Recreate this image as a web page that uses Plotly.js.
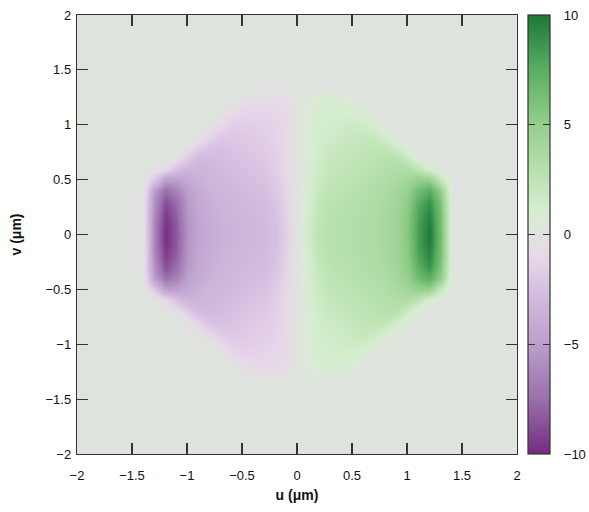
<!DOCTYPE html>
<html><head><meta charset="utf-8">
<script src="https://cdn.plot.ly/plotly-3.0.1.min.js"></script>
<style>html,body{margin:0;padding:0;background:#fff}</style>
</head><body><div id="chart" style="width:589px;height:512px"></div>
<script>
const uValues = [-1.5,-1.4,-1.3,-1.2,-1.1,-1.0,-0.9,-0.8,-0.7,-0.6,-0.5,-0.4,-0.3,-0.2,-0.1,0,0.1,0.2,0.3,0.4,0.5,0.6,0.7,0.8,0.9,1.0,1.1,1.2,1.3,1.4,1.5];
const vValues = [-1.4,-1.3,-1.2,-1.1,-1.0,-0.9,-0.8,-0.7,-0.6,-0.5,-0.4,-0.3,-0.2,-0.1,0,0.1,0.2,0.3,0.4,0.5,0.6,0.7,0.8,0.9,1.0,1.1,1.2,1.3,1.4];
const zRows = [
[0,0,0,0,0,0,0,0,0,0,0,0,0,0,0,0,0,0,0,0,0,0,0,0,0,0,0,0,0,0,0],
[0,0,0,0,0,0,0,0,0,0,0,-0.2,-0.3,-0.3,-0.2,0,0.2,0.3,0.3,0.2,0,0,0,0,0,0,0,0,0,0,0],
[0,0,0,0,0,0,0,0,0,-0.2,-0.6,-0.9,-1.0,-0.9,-0.6,0,0.6,0.9,1.0,0.9,0.6,0.2,0,0,0,0,0,0,0,0,0],
[0,0,0,0,0,0,0,0,-0.2,-0.8,-1.2,-1.3,-1.2,-1.1,-0.8,0,0.8,1.1,1.2,1.3,1.2,0.8,0.2,0,0,0,0,0,0,0,0],
[0,0,0,0,0,0,0,-0.2,-0.8,-1.5,-1.6,-1.5,-1.4,-1.2,-0.8,0,0.8,1.2,1.4,1.5,1.6,1.5,0.8,0.2,0,0,0,0,0,0,0],
[0,0,0,0,0,0,-0.3,-1.0,-1.9,-2.0,-1.9,-1.7,-1.5,-1.3,-0.8,0,0.8,1.3,1.5,1.7,1.9,2.0,1.9,1.0,0.3,0,0,0,0,0,0],
[0,0,0,0,0,-0.4,-1.4,-2.3,-2.4,-2.3,-2.1,-1.9,-1.7,-1.4,-0.8,0,0.8,1.4,1.7,1.9,2.1,2.3,2.4,2.3,1.4,0.4,0,0,0,0,0],
[0,0,0,0,-0.4,-1.7,-2.9,-2.9,-2.7,-2.5,-2.3,-2.1,-1.9,-1.5,-0.8,0,0.8,1.5,1.9,2.1,2.3,2.5,2.7,2.9,2.9,1.7,0.4,0,0,0,0],
[0,0,-0.1,-0.8,-2.3,-3.3,-3.3,-3.1,-2.9,-2.7,-2.5,-2.3,-2.1,-1.6,-0.9,0,0.9,1.6,2.1,2.3,2.5,2.7,2.9,3.1,3.3,3.3,2.3,0.8,0.1,0,0],
[0,0,-2.0,-4.8,-4.8,-4.1,-3.6,-3.3,-3.1,-2.9,-2.7,-2.5,-2.3,-1.8,-1.0,0,1.0,1.8,2.3,2.5,2.7,2.9,3.1,3.3,3.6,4.1,4.8,4.8,2.0,0,0],
[0,-0.2,-5.0,-7.4,-6.4,-4.8,-4.0,-3.5,-3.3,-3.1,-2.9,-2.7,-2.5,-2.0,-1.1,0,1.1,2.0,2.5,2.7,2.9,3.1,3.3,3.5,4.0,4.8,6.4,7.4,5.0,0.2,0],
[0,-0.3,-5.8,-8.7,-7.4,-5.2,-4.2,-3.7,-3.4,-3.2,-3.0,-2.9,-2.7,-2.2,-1.2,0,1.2,2.2,2.7,2.9,3.0,3.2,3.4,3.7,4.2,5.2,7.4,8.7,5.8,0.3,0],
[0,-0.3,-6.2,-9.3,-7.9,-5.4,-4.3,-3.8,-3.5,-3.3,-3.1,-3.0,-2.8,-2.4,-1.3,0,1.3,2.4,2.8,3.0,3.1,3.3,3.5,3.8,4.3,5.4,7.9,9.3,6.2,0.3,0],
[0,-0.3,-6.4,-9.7,-8.2,-5.5,-4.4,-3.9,-3.6,-3.4,-3.2,-3.1,-2.9,-2.5,-1.4,0,1.4,2.5,2.9,3.1,3.2,3.4,3.6,3.9,4.4,5.5,8.2,9.7,6.4,0.3,0],
[0,-0.3,-6.5,-9.9,-8.3,-5.6,-4.4,-3.9,-3.6,-3.4,-3.2,-3.1,-2.9,-2.6,-1.5,0,1.5,2.6,2.9,3.1,3.2,3.4,3.6,3.9,4.4,5.6,8.3,9.9,6.5,0.3,0],
[0,-0.3,-6.4,-9.7,-8.2,-5.5,-4.4,-3.9,-3.6,-3.4,-3.2,-3.1,-2.9,-2.5,-1.4,0,1.4,2.5,2.9,3.1,3.2,3.4,3.6,3.9,4.4,5.5,8.2,9.7,6.4,0.3,0],
[0,-0.3,-6.2,-9.3,-7.9,-5.4,-4.3,-3.8,-3.5,-3.3,-3.1,-3.0,-2.8,-2.4,-1.3,0,1.3,2.4,2.8,3.0,3.1,3.3,3.5,3.8,4.3,5.4,7.9,9.3,6.2,0.3,0],
[0,-0.3,-5.8,-8.7,-7.4,-5.2,-4.2,-3.7,-3.4,-3.2,-3.0,-2.9,-2.7,-2.2,-1.2,0,1.2,2.2,2.7,2.9,3.0,3.2,3.4,3.7,4.2,5.2,7.4,8.7,5.8,0.3,0],
[0,-0.2,-5.0,-7.4,-6.4,-4.8,-4.0,-3.5,-3.3,-3.1,-2.9,-2.7,-2.5,-2.0,-1.1,0,1.1,2.0,2.5,2.7,2.9,3.1,3.3,3.5,4.0,4.8,6.4,7.4,5.0,0.2,0],
[0,0,-2.0,-4.8,-4.8,-4.1,-3.6,-3.3,-3.1,-2.9,-2.7,-2.5,-2.3,-1.8,-1.0,0,1.0,1.8,2.3,2.5,2.7,2.9,3.1,3.3,3.6,4.1,4.8,4.8,2.0,0,0],
[0,0,-0.1,-0.8,-2.3,-3.3,-3.3,-3.1,-2.9,-2.7,-2.5,-2.3,-2.1,-1.6,-0.9,0,0.9,1.6,2.1,2.3,2.5,2.7,2.9,3.1,3.3,3.3,2.3,0.8,0.1,0,0],
[0,0,0,0,-0.4,-1.7,-2.9,-2.9,-2.7,-2.5,-2.3,-2.1,-1.9,-1.5,-0.8,0,0.8,1.5,1.9,2.1,2.3,2.5,2.7,2.9,2.9,1.7,0.4,0,0,0,0],
[0,0,0,0,0,-0.4,-1.4,-2.3,-2.4,-2.3,-2.1,-1.9,-1.7,-1.4,-0.8,0,0.8,1.4,1.7,1.9,2.1,2.3,2.4,2.3,1.4,0.4,0,0,0,0,0],
[0,0,0,0,0,0,-0.3,-1.0,-1.9,-2.0,-1.9,-1.7,-1.5,-1.3,-0.8,0,0.8,1.3,1.5,1.7,1.9,2.0,1.9,1.0,0.3,0,0,0,0,0,0],
[0,0,0,0,0,0,0,-0.2,-0.8,-1.5,-1.6,-1.5,-1.4,-1.2,-0.8,0,0.8,1.2,1.4,1.5,1.6,1.5,0.8,0.2,0,0,0,0,0,0,0],
[0,0,0,0,0,0,0,0,-0.2,-0.8,-1.2,-1.3,-1.2,-1.1,-0.8,0,0.8,1.1,1.2,1.3,1.2,0.8,0.2,0,0,0,0,0,0,0,0],
[0,0,0,0,0,0,0,0,0,-0.2,-0.6,-0.9,-1.0,-0.9,-0.6,0,0.6,0.9,1.0,0.9,0.6,0.2,0,0,0,0,0,0,0,0,0],
[0,0,0,0,0,0,0,0,0,0,0,-0.2,-0.3,-0.3,-0.2,0,0.2,0.3,0.3,0.2,0,0,0,0,0,0,0,0,0,0,0],
[0,0,0,0,0,0,0,0,0,0,0,0,0,0,0,0,0,0,0,0,0,0,0,0,0,0,0,0,0,0,0]
];
const axisTickVals = [-2,-1.5,-1,-0.5,0,0.5,1,1.5,2];
const cbTickVals = [-10,-5,0,5,10];
const zMin = -10, zMax = 10;
const bgColor = 'rgb(223,227,222)';
const colorscale = [
  [0.0, 'rgb(118,42,131)'],
  [0.125, 'rgb(153,112,171)'],
  [0.25, 'rgb(188,158,204)'],
  [0.375, 'rgb(214,192,225)'],
  [0.44, 'rgb(230,213,233)'],
  [0.47, 'rgb(228,222,228)'],
  [0.5, bgColor],
  [0.53, 'rgb(220,233,216)'],
  [0.56, 'rgb(212,237,206)'],
  [0.625, 'rgb(190,228,181)'],
  [0.75, 'rgb(148,207,140)'],
  [0.875, 'rgb(90,174,97)'],
  [1.0, 'rgb(27,120,55)']
];
const clearScale = [[0, 'rgba(0,0,0,0)'], [1, 'rgba(0,0,0,0)']];
const FONT = '"Liberation Sans", Arial, sans-serif';
const cbX = 1.025, cbThick = 22, cbTick = 7;
const innerTickVals = cbTickVals.filter(v => v > zMin && v < zMax);
const fmt = v => (v < 0 ? '\u2212' + Math.abs(v) : String(v));
const cbTickText = cbTickVals.map(v => '\u2002\u00a0' + fmt(v));
const cbBase = {
  x: cbX, xanchor: 'left', xpad: 0, ypad: 0, y: 0.5, yanchor: 'middle',
  len: 1, lenmode: 'fraction', thicknessmode: 'pixels'
};
const trace = {
  type: 'heatmap', x: uValues, y: vValues, z: zRows,
  zmin: zMin, zmax: zMax, zsmooth: 'best', colorscale: colorscale,
  colorbar: Object.assign({}, cbBase, {
    thickness: cbThick, outlinewidth: 1.2, outlinecolor: '#333',
    tickmode: 'array', tickvals: cbTickVals, ticktext: cbTickText,
    ticks: 'inside', ticklen: cbTick, tickcolor: '#333', tickwidth: 1.2,
    tickfont: {family: FONT, size: 13, color: '#111'}
  }),
  hoverinfo: 'skip'
};
/* same data, invisible: only supplies the left-hand inside ticks of the colour bar */
const tickTrace = {
  type: 'heatmap', x: uValues, y: vValues, z: zRows,
  zmin: zMin, zmax: zMax, zsmooth: 'best', colorscale: clearScale, opacity: 0,
  colorbar: Object.assign({}, cbBase, {
    thickness: cbTick, outlinewidth: 0,
    tickmode: 'array', tickvals: innerTickVals, showticklabels: false,
    ticks: 'inside', ticklen: cbTick, tickcolor: '#333', tickwidth: 1.2
  }),
  hoverinfo: 'skip'
};
const axisCommon = {
  range: [-2, 2], tickvals: axisTickVals, ticks: 'inside', ticklen: 11, tickwidth: 1.2,
  tickcolor: '#333', showline: true, linecolor: '#333', linewidth: 1.2, mirror: 'ticks',
  showgrid: false, zeroline: false, tickfont: {family: FONT, size: 13, color: '#111'}
};
const layout = {
  width: 589, height: 512,
  margin: {l: 77, r: 72, t: 15, b: 58, autoexpand: false},
  paper_bgcolor: '#fff', plot_bgcolor: bgColor,
  xaxis: Object.assign({}, axisCommon, {
    ticklabelstandoff: 9,
    title: {text: 'u (μm)', font: {family: FONT, size: 14, color: '#111', weight: 'bold'}, standoff: 8}
  }),
  yaxis: Object.assign({}, axisCommon, {
    ticklabelstandoff: 2,
    title: {text: 'v (μm)', font: {family: FONT, size: 14, color: '#111', weight: 'bold'}, standoff: 20}
  }),
  showlegend: false
};
Plotly.newPlot('chart', [trace, tickTrace], layout, {displayModeBar: false, staticPlot: true});
</script></body></html>
